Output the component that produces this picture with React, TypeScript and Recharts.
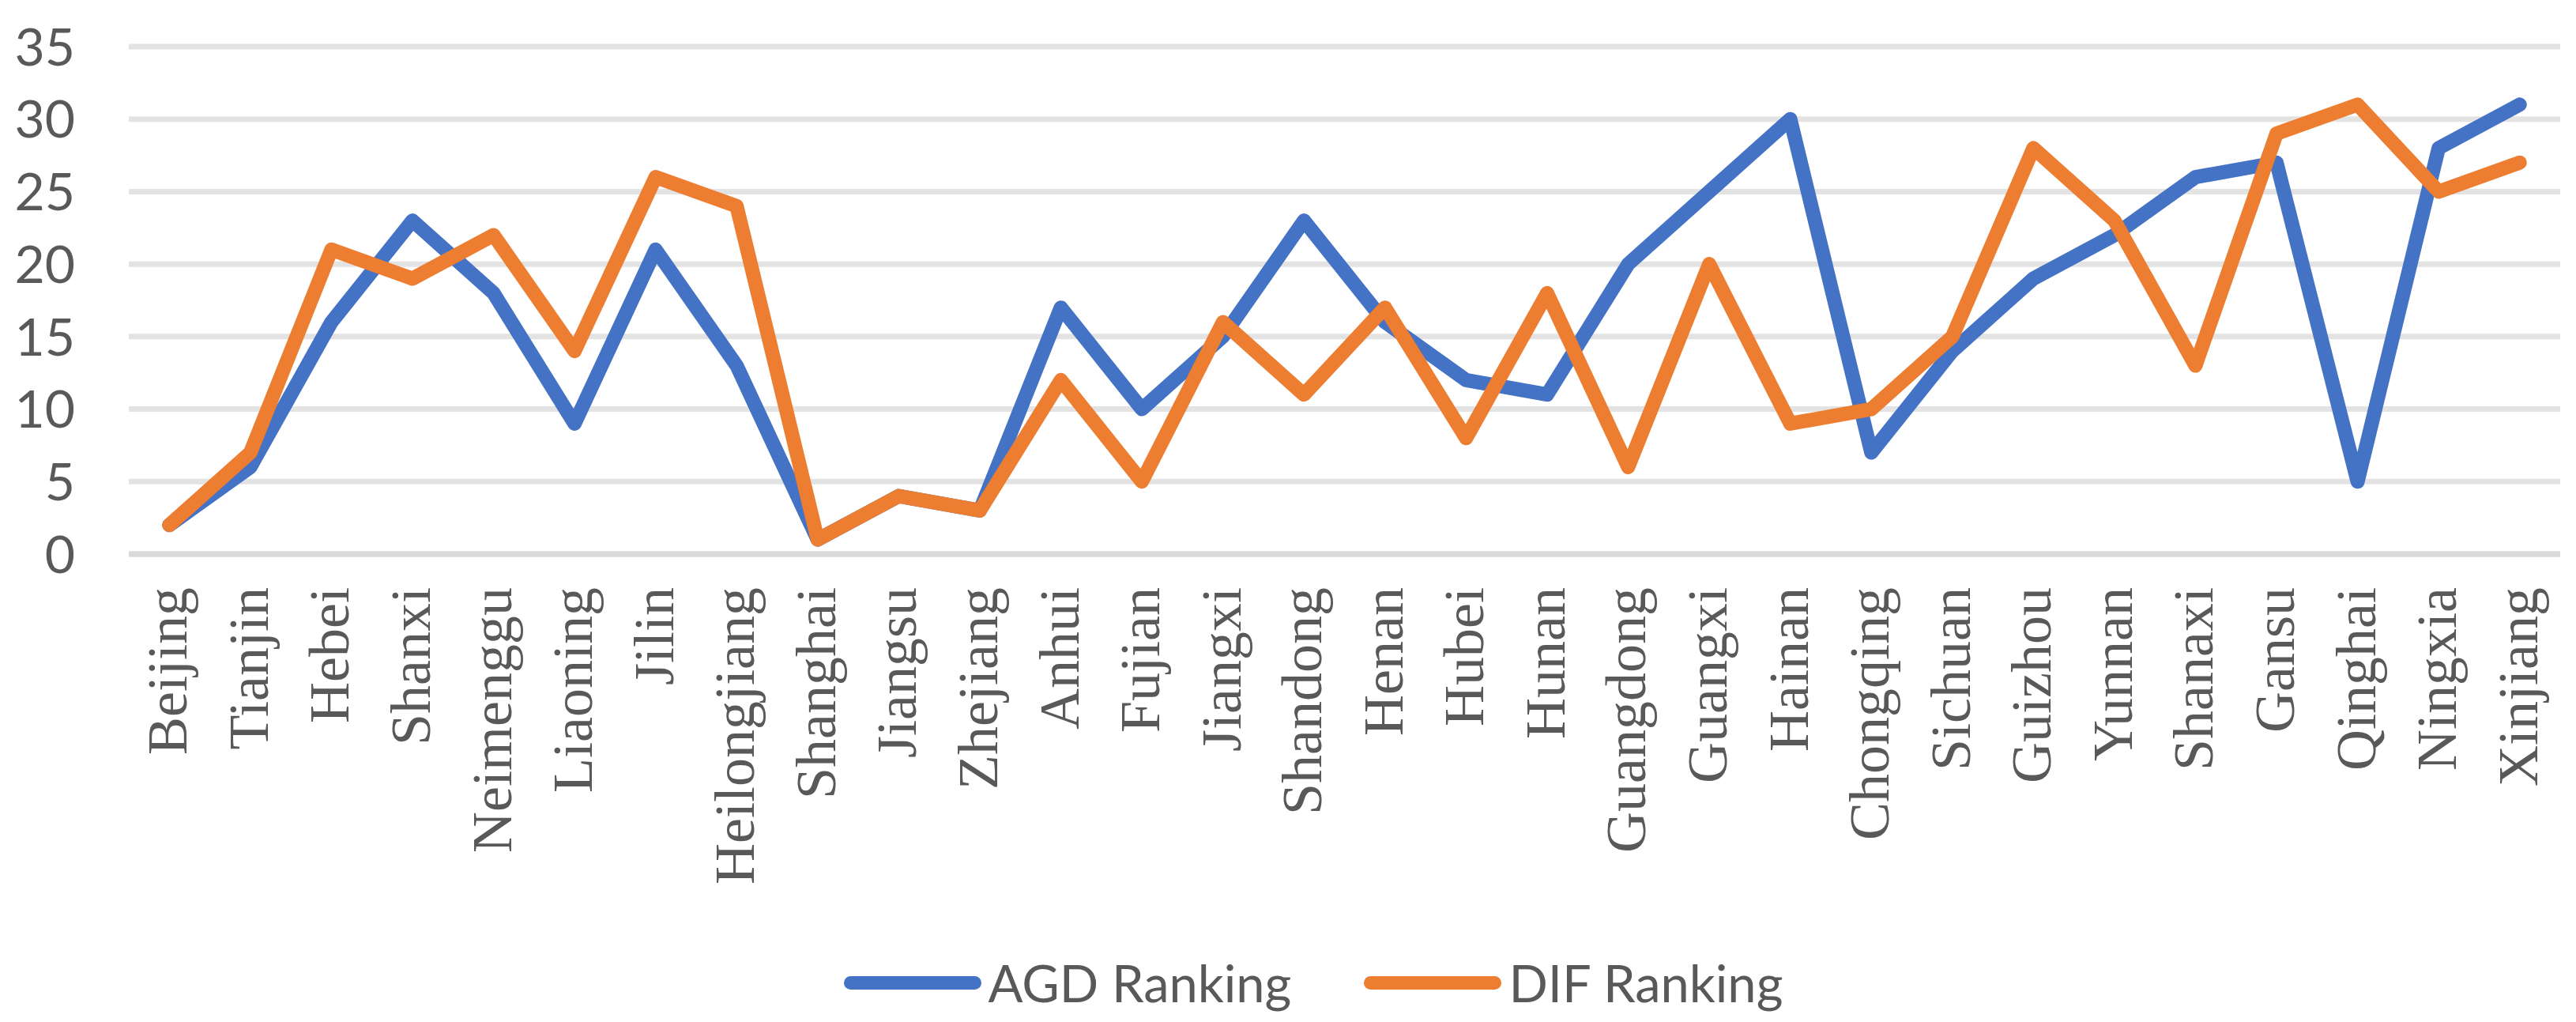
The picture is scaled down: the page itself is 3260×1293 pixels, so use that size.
import React from "react";
import { LineChart, Line, XAxis, YAxis, CartesianGrid, Legend } from "recharts";

const provinces = [
  "Beijing", "Tianjin", "Hebei", "Shanxi", "Neimenggu", "Liaoning", "Jilin", "Heilongjiang",
  "Shanghai", "Jiangsu", "Zhejiang", "Anhui", "Fujian", "Jiangxi", "Shandong", "Henan",
  "Hubei", "Hunan", "Guangdong", "Guangxi", "Hainan", "Chongqing", "Sichuan", "Guizhou",
  "Yunnan", "Shanaxi", "Gansu", "Qinghai", "Ningxia", "Xinjiang",
];
const agdRanking = [2, 6, 16, 23, 18, 9, 21, 13, 1, 4, 3, 17, 10, 15, 23, 16, 12, 11, 20, 25, 30, 7, 14, 19, 22, 26, 27, 5, 28, 31];
const difRanking = [2, 7, 21, 19, 22, 14, 26, 24, 1, 4, 3, 12, 5, 16, 11, 17, 8, 18, 6, 20, 9, 10, 15, 28, 23, 13, 29, 31, 25, 27];
const yTicks = [0, 5, 10, 15, 20, 25, 30, 35];

const seriesNames = { agd: "AGD Ranking", dif: "DIF Ranking" };
const colors = { agd: "#4472C4", dif: "#ED7D31" };

const data = provinces.map((p, i) => ({ province: p, agd: agdRanking[i], dif: difRanking[i] }));

const SANS = "Lato, 'Noto Sans', sans-serif";
const SERIF = "'Liberation Serif', 'DejaVu Serif', serif";
const TEXT = "#595959";

const XTick = (props: any) => {
  const { x, y, payload } = props;
  return (
    <text
      transform={`translate(${x},${y + 42}) rotate(-90)`}
      textAnchor="end"
      dy={22}
      fontFamily={SERIF}
      fontSize={72}
      fill={TEXT}
    >
      {payload.value}
    </text>
  );
};

const YTick = (props: any) => {
  const { y, payload } = props;
  return (
    <text x={95} y={y} textAnchor="end" dy="0.36em" fontFamily={SANS} fontSize={66} fill={TEXT}>
      {payload.value}
    </text>
  );
};

const LegendContent = (props: any) => {
  const { payload } = props;
  return (
    <div
      style={{
        display: "flex",
        justifyContent: "center",
        alignItems: "center",
        height: 100,
        paddingLeft: 84,
        boxSizing: "border-box",
      }}
    >
      {(payload || []).map((entry: any, i: number) => (
        <div key={i} style={{ display: "flex", alignItems: "center", marginLeft: i === 0 ? 0 : 92 }}>
          <div style={{ width: 174, height: 17, borderRadius: 9, background: entry.color, marginRight: 9 }} />
          <span style={{ fontFamily: SANS, fontSize: 65, color: TEXT, lineHeight: 1 }}>{entry.value}</span>
        </div>
      ))}
    </div>
  );
};

export default function App() {
  return (
    <div style={{ position: "absolute", left: 0, top: 0, width: 3260, height: 1293, background: "#fff" }}>
      <LineChart width={3260} height={1293} data={data} margin={{ top: 59, right: 20, left: 0, bottom: 0 }}>
        <CartesianGrid vertical={false} stroke="#E3E3E3" strokeWidth={7} />
        <XAxis
          dataKey="province"
          scale="band"
          interval={0}
          height={492}
          tickLine={false}
          tickSize={0}
          tickMargin={0}
          axisLine={{ stroke: "#D9D9D9", strokeWidth: 7 }}
          tick={<XTick />}
        />
        <YAxis
          domain={[0, 35]}
          ticks={yTicks}
          width={163}
          axisLine={false}
          tickLine={false}
          tickSize={0}
          tick={<YTick />}
        />
        <Legend verticalAlign="bottom" height={100} content={<LegendContent />} />
        <Line
          dataKey="agd"
          name={seriesNames.agd}
          stroke={colors.agd}
          strokeWidth={18}
          strokeLinecap="round"
          strokeLinejoin="round"
          dot={false}
          activeDot={false}
          isAnimationActive={false}
        />
        <Line
          dataKey="dif"
          name={seriesNames.dif}
          stroke={colors.dif}
          strokeWidth={18}
          strokeLinecap="round"
          strokeLinejoin="round"
          dot={false}
          activeDot={false}
          isAnimationActive={false}
        />
      </LineChart>
    </div>
  );
}
